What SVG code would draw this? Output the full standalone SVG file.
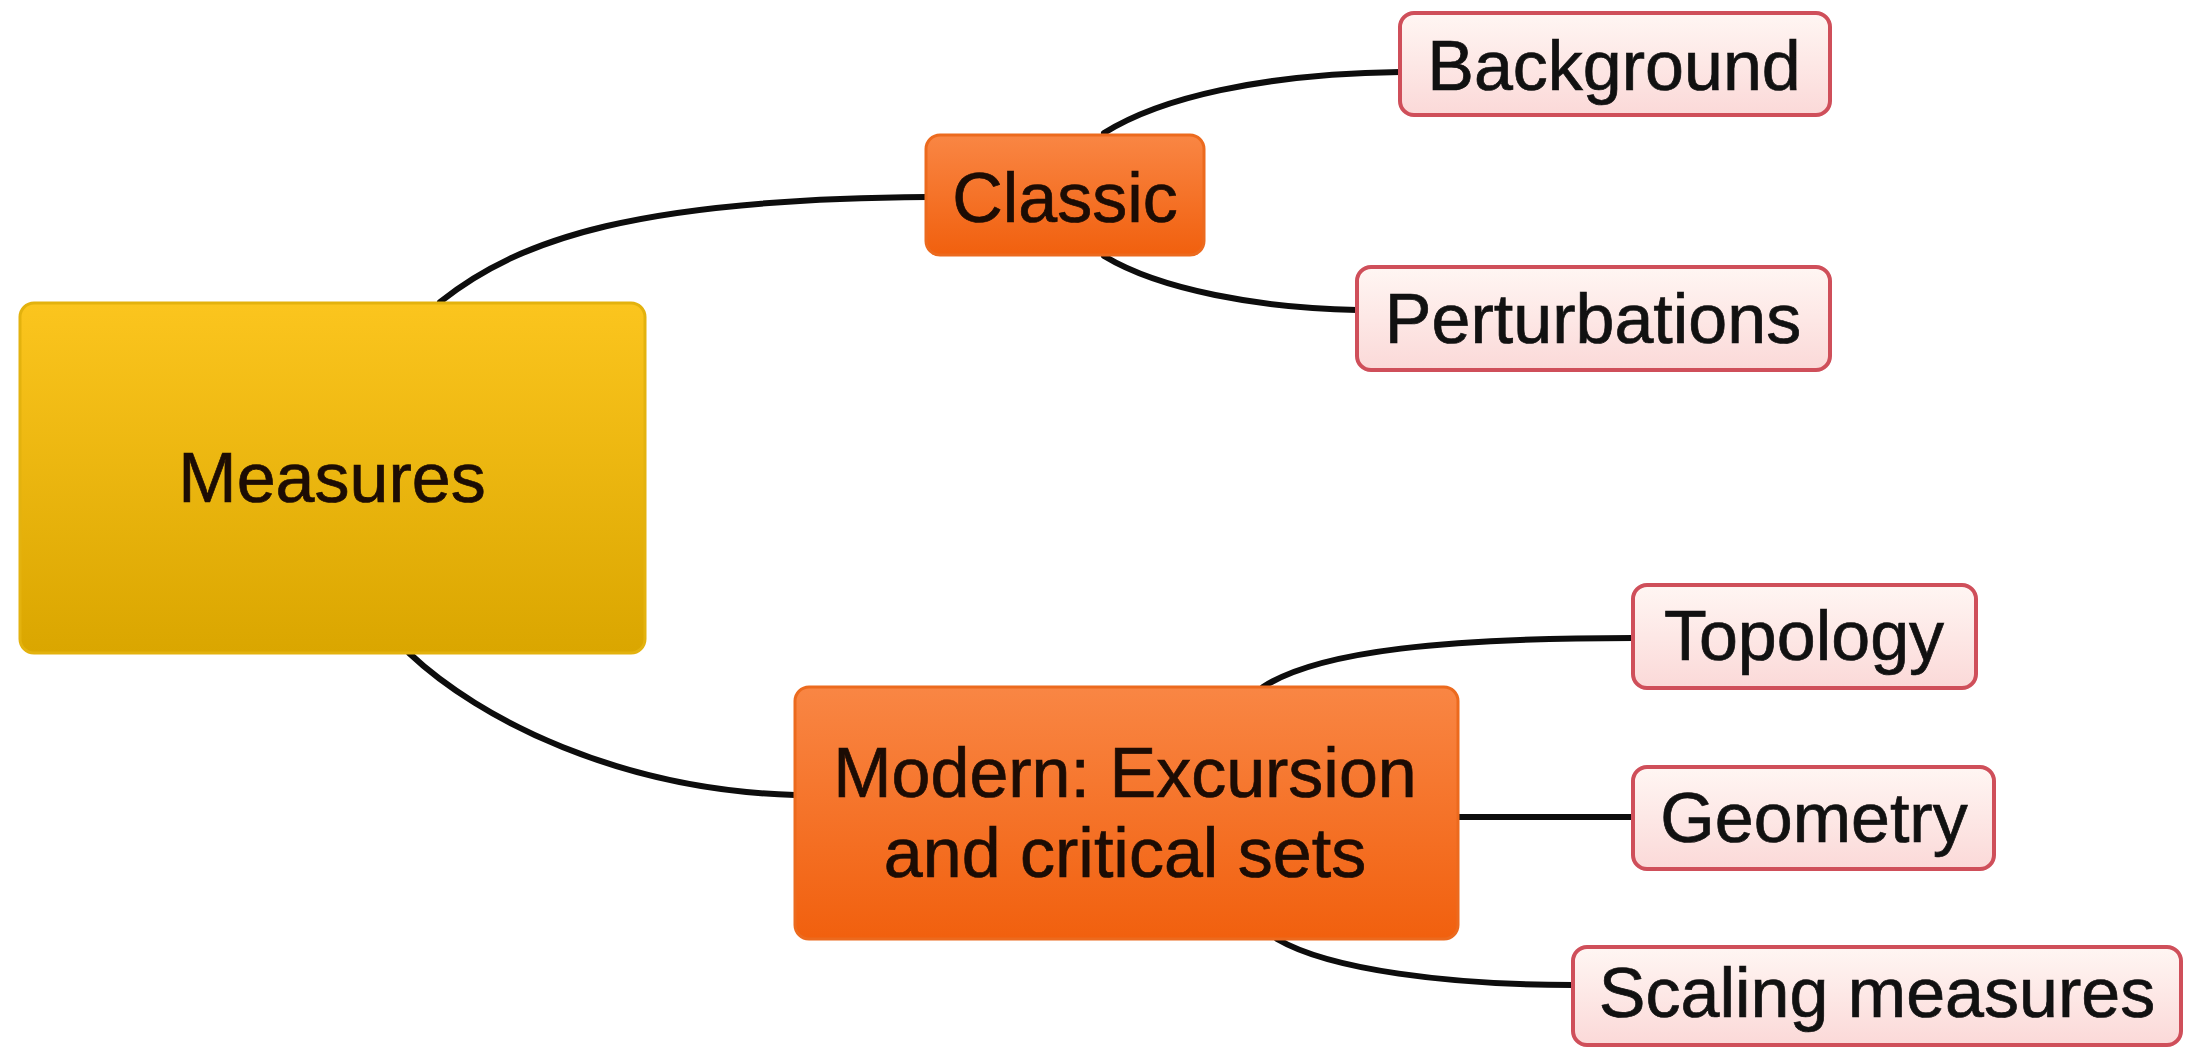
<svg xmlns="http://www.w3.org/2000/svg" width="2188" height="1047" viewBox="0 0 2188 1047">
  <style>
    .lbl { font-family: "Liberation Sans", Arial, sans-serif; font-size: 70px; text-anchor: middle; stroke-width: 0.7; }
    .dark { fill: #1c0c04; stroke: #1c0c04; }
    .leaf-t { fill: #111111; stroke: #111111; }
    .edge { fill: none; stroke: #0d0d0d; stroke-width: 6; stroke-linecap: round; }
    .root { fill: url(#gRoot); stroke: #e3b20e; stroke-width: 3; }
    .mid { fill: url(#gMid); stroke: #ec6a1e; stroke-width: 3; }
    .leaf { fill: url(#gLeaf); stroke: #cf4f5a; stroke-width: 4; }
  </style>
  <defs>
    <linearGradient id="gRoot" x1="0" y1="0" x2="0" y2="1">
      <stop offset="0" stop-color="#fbc51e"/>
      <stop offset="1" stop-color="#daa600"/>
    </linearGradient>
    <linearGradient id="gMid" x1="0" y1="0" x2="0" y2="1">
      <stop offset="0" stop-color="#f98644"/>
      <stop offset="1" stop-color="#f1600e"/>
    </linearGradient>
    <linearGradient id="gLeaf" x1="0" y1="0" x2="0" y2="1">
      <stop offset="0" stop-color="#fff6f3"/>
      <stop offset="1" stop-color="#fbd9d8"/>
    </linearGradient>
  </defs>

  <rect width="2188" height="1047" fill="#ffffff"/>

  <!-- branch lines -->
  <g id="connectors">
    <path class="edge" d="M440,302 C520,238 640,199 927,197"/>
    <path class="edge" d="M1104,133 C1160,98 1260,74 1400,72"/>
    <path class="edge" d="M1104,256 C1160,290 1260,308 1357,310"/>
    <path class="edge" d="M409,653 C480,720 620,790 795,795"/>
    <path class="edge" d="M1263,687 C1320,650 1450,638 1633,638"/>
    <path class="edge" d="M1458,817 L1633,817"/>
    <path class="edge" d="M1277,939 C1330,970 1450,985 1573,985"/>
  </g>

  <g id="measures">
    <rect class="root" x="20" y="303" width="625" height="350" rx="14"/>
    <text class="lbl dark" x="332" y="502">Measures</text>
  </g>

  <g id="classic">
    <rect class="mid" x="926" y="135" width="278" height="120" rx="14"/>
    <text class="lbl dark" x="1065" y="222">Classic</text>
  </g>

  <g id="modern">
    <rect class="mid" x="795" y="687" width="663" height="252" rx="14"/>
    <text class="lbl dark" x="1125" y="797">Modern: Excursion</text>
    <text class="lbl dark" x="1125" y="877">and critical sets</text>
  </g>

  <g id="background">
    <rect class="leaf" x="1400" y="13" width="430" height="102" rx="14"/>
    <text class="lbl leaf-t" x="1614" y="90">Background</text>
  </g>

  <g id="perturbations">
    <rect class="leaf" x="1357" y="267" width="473" height="103" rx="14"/>
    <text class="lbl leaf-t" x="1593" y="343">Perturbations</text>
  </g>

  <g id="topology">
    <rect class="leaf" x="1633" y="585" width="343" height="103" rx="14"/>
    <text class="lbl leaf-t" x="1804" y="660">Topology</text>
  </g>

  <g id="geometry">
    <rect class="leaf" x="1633" y="767" width="361" height="102" rx="14"/>
    <text class="lbl leaf-t" x="1814" y="842">Geometry</text>
  </g>

  <g id="scaling">
    <rect class="leaf" x="1573" y="947" width="608" height="98" rx="14"/>
    <text class="lbl leaf-t" x="1877" y="1017">Scaling measures</text>
  </g>
</svg>
